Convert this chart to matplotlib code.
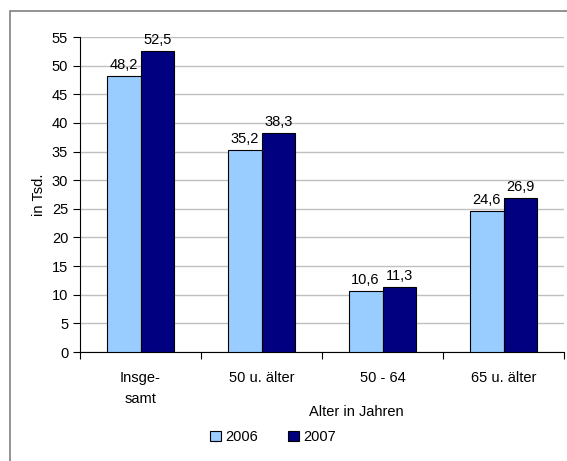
import matplotlib.pyplot as plt
import numpy as np
from matplotlib.patches import Rectangle

plt.rcParams['font.family'] = ['Liberation Sans', 'DejaVu Sans']

categories = ["Insge-\nsamt", "50 u. älter", "50 - 64", "65 u. älter"]
years = ["2006", "2007"]
values_2006 = [48.2, 35.2, 10.6, 24.6]
values_2007 = [52.5, 38.3, 11.3, 26.9]
colors = ["#99CCFF", "#000080"]

fs = 10.5

fig = plt.figure(figsize=(5.67, 4.61), dpi=100)
ax = fig.add_axes([80 / 567, 1 - 352 / 461, 484 / 567, 315 / 461])

# outer frame of the chart area (cut off right and bottom)
fig.patches.append(Rectangle((10 / 567, -0.1), 1.2, (461 - 11) / 461 + 0.1,
                             transform=fig.transFigure, fill=False,
                             edgecolor="#808080", linewidth=1.2))
fig.text(30 / 567, 1.012, "in 1.000", fontsize=11, fontweight="bold", va="center")

x = np.arange(len(categories))
w = 0.28
for i, (vals, lab) in enumerate(zip([values_2006, values_2007], years)):
    pos = x + (i - 0.5) * w
    ax.bar(pos, vals, width=w, color=colors[i], edgecolor="black", linewidth=0.8,
           label=lab, zorder=3)
    for p, v in zip(pos, vals):
        ax.text(p, v + 0.7, f"{v:.1f}".replace(".", ","), ha="center", va="bottom",
                fontsize=fs)

ax.set_xlim(-0.5, len(categories) - 0.5)
ax.set_ylim(0, 55)
ax.set_yticks(range(0, 56, 5))
ax.yaxis.grid(True, color="#C0C0C0", linewidth=1)
ax.set_axisbelow(True)
ax.set_xticks(x)
ax.set_xticklabels(categories, fontsize=fs, linespacing=1.6, va="top")
ax.set_xticks(np.arange(-0.5, len(categories)), minor=True)
ax.tick_params(axis="x", which="major", length=0, pad=14)
ax.tick_params(axis="x", which="minor", length=5, direction="out", width=0.8)
ax.tick_params(axis="y", length=5, direction="out", width=0.8, labelsize=fs)
for s in ["top", "right"]:
    ax.spines[s].set_visible(False)
for s in ["left", "bottom"]:
    ax.spines[s].set_linewidth(0.8)

ax.set_ylabel("in Tsd.", fontsize=fs, labelpad=4)
fig.text(356 / 567, 1 - 412 / 461, "Alter in Jahren", fontsize=fs,
         ha="center", va="center")

fig.legend(loc="center", bbox_to_anchor=(273 / 567, 1 - 437 / 461), ncol=2,
           frameon=False, fontsize=fs, handlelength=0.75, handleheight=0.75,
           columnspacing=2.1, handletextpad=0.3)

fig.savefig("out.png", dpi=100)
